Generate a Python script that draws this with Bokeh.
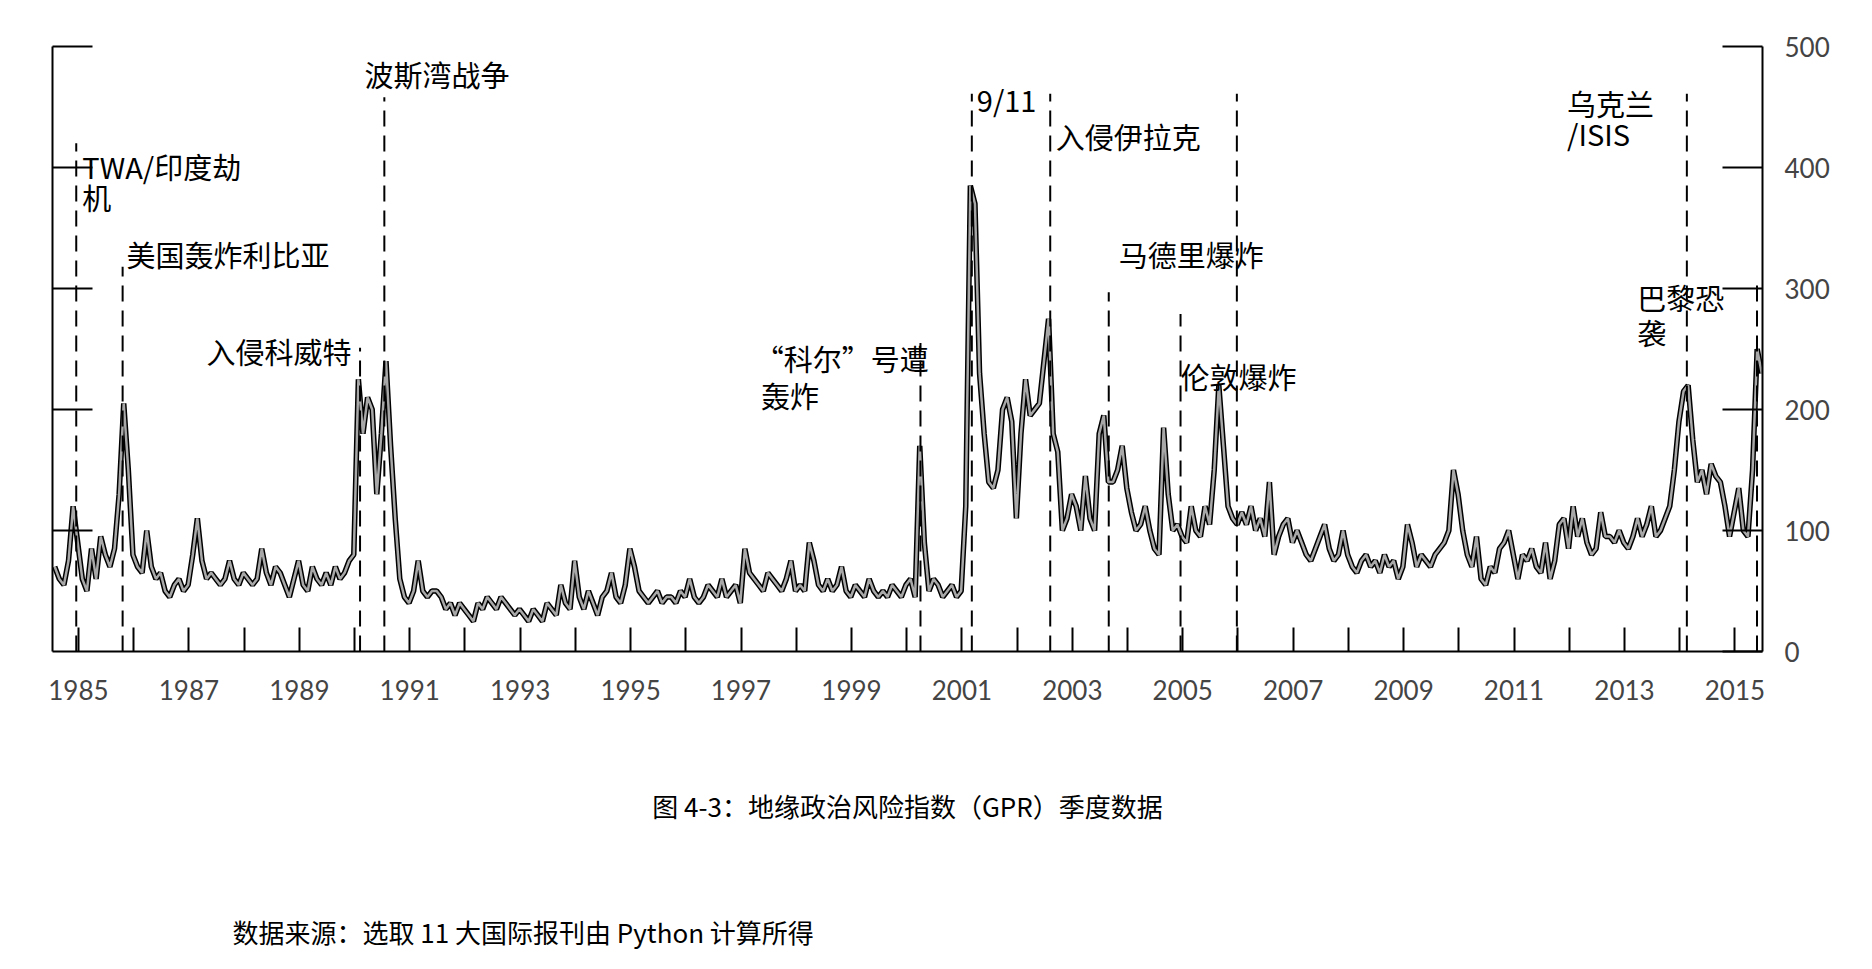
from bokeh.plotting import figure
from bokeh.models import Range1d, LinearAxis, FixedTicker, Title
from bokeh.core.properties import value
from bokeh.embed import file_html
from bokeh.resources import INLINE

# monthly GPR values, one row per year of the chart (starting mid-1984 on the drawn axis)
gpr_rows = [
    [70, 60, 55, 75, 120, 90, 60, 50, 85, 60, 95, 80],
    [70, 85, 130, 205, 150, 80, 70, 65, 100, 70, 60, 65],
    [50, 45, 55, 60, 50, 55, 80, 110, 75, 60, 65, 60],
    [55, 60, 75, 60, 55, 65, 60, 55, 60, 85, 65, 55],
    [70, 65, 55, 45, 60, 75, 55, 50, 70, 60, 55, 65],
    [55, 70, 60, 65, 75, 80, 225, 180, 210, 200, 130, 180],
    [240, 170, 110, 60, 45, 40, 50, 75, 50, 45, 50, 50],
    [45, 35, 40, 30, 40, 35, 30, 25, 40, 35, 45, 40],
    [35, 45, 40, 35, 30, 35, 30, 25, 35, 30, 25, 40],
    [35, 30, 55, 40, 35, 75, 45, 35, 50, 40, 30, 45],
    [50, 65, 45, 40, 55, 85, 70, 50, 45, 40, 45, 50],
    [40, 45, 45, 40, 50, 45, 60, 45, 40, 45, 55, 50],
    [45, 60, 45, 50, 55, 40, 85, 65, 60, 55, 50, 65],
    [60, 55, 50, 60, 75, 50, 55, 50, 90, 75, 55, 50],
    [60, 50, 55, 70, 50, 45, 55, 50, 45, 60, 50, 45],
    [50, 45, 55, 50, 45, 55, 60, 45, 170, 90, 50, 60],
    [55, 45, 50, 55, 45, 50, 120, 385, 370, 230, 180, 140],
    [135, 150, 200, 210, 190, 110, 180, 225, 195, 200, 205, 240],
    [275, 180, 165, 100, 110, 130, 120, 100, 145, 110, 100, 180],
    [195, 140, 140, 150, 170, 135, 115, 100, 105, 120, 100, 85],
    [80, 185, 130, 100, 105, 95, 90, 120, 100, 95, 120, 105],
    [150, 220, 170, 120, 110, 105, 115, 105, 120, 100, 110, 95],
    [140, 80, 95, 105, 110, 90, 100, 90, 80, 75, 85, 95],
    [105, 85, 75, 80, 100, 80, 70, 65, 75, 80, 70, 75],
    [65, 80, 70, 75, 60, 70, 105, 90, 70, 80, 75, 70],
    [80, 85, 90, 100, 150, 130, 100, 80, 70, 95, 60, 55],
    [70, 65, 85, 90, 100, 80, 60, 80, 75, 85, 70, 65],
    [90, 60, 75, 105, 110, 85, 120, 95, 110, 90, 80, 85],
    [115, 95, 95, 90, 100, 90, 85, 95, 110, 95, 105, 120],
    [95, 100, 110, 120, 150, 190, 215, 220, 175, 140, 150, 130],
    [155, 145, 140, 120, 95, 115, 135, 100, 95, 150, 250, 230],
]
start_year = 1984.57

# event marker lines (position on the drawn axis, height of the dashed line)
event_x = [1984.96, 1985.8, 1990.1, 1990.54, 2000.25, 2001.18, 2002.6,
           2003.66, 2004.96, 2005.98, 2014.13, 2015.4]
event_top = [420, 318, 251, 458, 255, 461, 461, 297, 279, 461, 461, 305]

label_text = ["TWA/印度劫", "机", "美国轰炸利比亚", "入侵科威特", "波斯湾战争",
              "“科尔”号遭", "轰炸", "9/11", "入侵伊拉克", "马德里爆炸",
              "伦敦爆炸", "乌克兰", "/ISIS", "巴黎恐", "袭"]
label_x = [1985.07, 1985.07, 1985.87, 1987.32, 1990.18, 1997.25, 1997.36,
           2001.27, 2002.70, 2003.84, 2004.96, 2011.96, 2011.96, 2013.23, 2013.23]
label_y = [419, 393, 346, 266, 495, 260, 229, 474, 443, 346, 245, 471, 446, 310, 281]

year_ticks = list(range(1985, 2016))
year_labels = {y: (str(y) if y % 2 == 1 else "") for y in year_ticks}
gpr_ticks = [0, 100, 200, 300, 400, 500]

caption = "图 4-3：地缘政治风险指数（GPR）季度数据"
source = "数据来源：选取 11 大国际报刊由 Python 计算所得"


def main():
    vals = [v for row in gpr_rows for v in row]
    xs = [start_year + i / 12 for i in range(len(vals))]

    p = figure(width=1856, height=953, output_backend="svg", toolbar_location=None,
               x_range=Range1d(1984.53, 2015.5), y_range=Range1d(0, 500),
               min_border_left=52, min_border_right=94, min_border_top=46,
               min_border_bottom=291, y_axis_location=None, x_axis_location=None)
    p.outline_line_color = None
    p.grid.visible = False
    p.background_fill_color = "white"

    xax = LinearAxis(ticker=FixedTicker(ticks=year_ticks), major_label_overrides=year_labels)
    xax.major_tick_in = 24
    xax.major_tick_out = 0
    xax.minor_tick_line_color = None
    xax.axis_line_width = 2
    xax.major_tick_line_width = 2
    xax.major_label_standoff = 28
    xax.major_label_text_font = "Lato"
    xax.major_label_text_font_size = "26px"
    p.add_layout(xax, "below")

    rax = LinearAxis(ticker=FixedTicker(ticks=gpr_ticks))
    rax.major_tick_in = 40
    rax.major_tick_out = 0
    rax.minor_tick_line_color = None
    rax.axis_line_width = 2
    rax.major_tick_line_width = 2
    rax.major_label_standoff = 22
    rax.major_label_text_font = "Lato"
    rax.major_label_text_font_size = "26px"
    p.add_layout(rax, "right")

    lax = LinearAxis(ticker=FixedTicker(ticks=gpr_ticks[1:]), major_label_overrides={t: "" for t in gpr_ticks})
    lax.major_tick_in = 40
    lax.major_tick_out = 0
    lax.minor_tick_line_color = None
    lax.axis_line_width = 2
    lax.major_tick_line_width = 2
    p.add_layout(lax, "left")

    p.line(xs, vals, line_color="black", line_width=5.5)
    p.line(xs, vals, line_color="#a8a8a8", line_width=2.5)

    p.segment(x0=event_x, y0=[0] * len(event_x), x1=event_x, y1=event_top,
              line_color="black", line_width=2, line_dash="16 9")

    p.text(x=label_x, y=label_y, text=label_text, text_baseline="top",
           text_font=value("Noto Sans CJK SC"), text_font_size="29px", text_color="black")

    p.add_layout(Title(text=caption, align="center", text_font="Noto Sans CJK SC",
                       text_font_size="26px", text_font_style="normal", text_color="black",
                       standoff=165), "below")
    p.add_layout(Title(text=source, align="left", offset=180, text_font="Noto Sans CJK SC",
                       text_font_size="26px", text_font_style="normal", text_color="black",
                       standoff=8), "below")

    open("out.html", "w").write(file_html(p, INLINE))


if __name__ == "__main__":
    main()
